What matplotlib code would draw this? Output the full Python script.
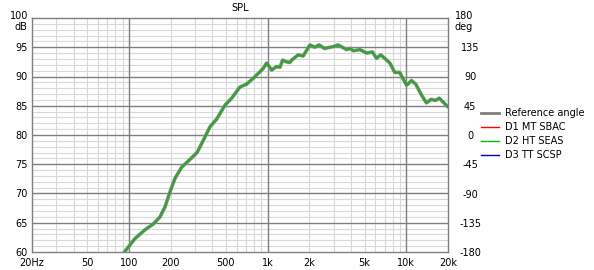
import numpy as np
import matplotlib
matplotlib.use("Agg")
import matplotlib.pyplot as plt
from matplotlib.lines import Line2D

# ---- data ----
freq = [90, 110.6, 130.6, 150, 167.5, 182, 198, 215, 240, 264, 310, 344, 384, 429,
        493, 551, 632, 706, 788, 881, 931, 985, 1070, 1160, 1228, 1284, 1370, 1450,
        1490, 1664, 1805, 2020, 2190, 2350, 2570, 2960, 3220, 3715, 3930, 4150, 4634,
        5177, 5700, 6110, 6530, 7000, 7620, 8260, 8960, 10060, 10900, 11700, 12900,
        13970, 15150, 16200, 17300, 20000]
spl = [59.6, 62.3, 63.8, 64.8, 66.0, 67.7, 70.3, 72.6, 74.5, 75.4, 77.0, 79.1, 81.4,
       82.7, 85.1, 86.3, 88.2, 88.7, 89.7, 90.8, 91.4, 92.3, 91.1, 91.7, 91.6, 92.8,
       92.5, 92.4, 92.8, 93.7, 93.5, 95.4, 95.0, 95.4, 94.8, 95.1, 95.4, 94.6, 94.8,
       94.4, 94.6, 94.0, 94.2, 93.1, 93.7, 93.1, 92.3, 90.7, 90.7, 88.5, 89.3, 88.7,
       86.8, 85.5, 86.1, 85.9, 86.3, 84.8]

xtick_vals = [20, 50, 100, 200, 500, 1000, 2000, 5000, 10000, 20000]
xtick_labels = ["20Hz", "50", "100", "200", "500", "1k", "2k", "5k", "10k", "20k"]
ytick_vals = [60, 65, 70, 75, 80, 85, 90, 95]
rtick_vals = [-180, -135, -90, -45, 0, 45, 90, 135]
legend_labels = ["Reference angle", "D1 MT SBAC", "D2 HT SEAS", "D3 TT SCSP"]
legend_colors = ["#808080", "#ff0000", "#00c000", "#0000c0"]

W, H = 594, 270
fig = plt.figure(figsize=(W / 100, H / 100), dpi=100)
L, R, T, B = 32, 448, 18, 252
ax = fig.add_axes([L / W, (H - B) / H, (R - L) / W, (B - T) / H])
ax.set_xscale("log")
ax.set_xlim(20, 20000)
ax.set_ylim(60, 100)

# grid
minor_f = [m * d for d in (10, 100, 1000, 10000) for m in range(2, 10) if 20 < m * d < 20000]
for f in minor_f:
    ax.axvline(f, color="#d8d8d8", lw=0.8, zorder=0)
for f in (100, 1000, 10000):
    ax.axvline(f, color="#7f7f7f", lw=1.0, zorder=1)
for v in range(61, 100):
    if v % 5:
        ax.axhline(v, color="#d8d8d8", lw=0.8, zorder=0)
for v in range(65, 100, 5):
    ax.axhline(v, color="#7f7f7f", lw=1.0, zorder=1)

for s in ax.spines.values():
    s.set_color("#7f7f7f")
    s.set_linewidth(1.0)

ax.plot(freq, spl, color="#909090", lw=2.6, zorder=3, solid_capstyle="round")
ax.plot(freq, spl, color="#35a235", lw=1.7, zorder=4, solid_capstyle="round")

ax.set_xticks(xtick_vals)
ax.set_xticklabels(xtick_labels)
ax.xaxis.set_minor_locator(matplotlib.ticker.NullLocator())
ax.set_yticks(ytick_vals)
ax.set_yticklabels([str(v) for v in ytick_vals])
ax.tick_params(axis="both", length=0, labelsize=7)
ax.tick_params(axis="x", pad=4)
ax.tick_params(axis="y", pad=3)
ax.text(-0.01, 1 + 2 / 234, "100", transform=ax.transAxes, ha="right", va="center", fontsize=7)
ax.text(-0.01, 1 - 9 / 234, "dB", transform=ax.transAxes, ha="right", va="center", fontsize=7)

ax2 = ax.twinx()
ax2.set_ylim(-180, 180)
ax2.set_yticks(rtick_vals)
ax2.set_yticklabels([str(v) for v in rtick_vals], ha="center")
ax2.tick_params(axis="y", length=0, labelsize=7, pad=16)
for s in ax2.spines.values():
    s.set_visible(False)
ax2.text(1.038, 1 + 2 / 234, "180", transform=ax.transAxes, ha="center", va="center", fontsize=7)
ax2.text(1.038, 1 - 9 / 234, "deg", transform=ax.transAxes, ha="center", va="center", fontsize=7)

fig.text(240 / W, 1 - 8 / H, "SPL", ha="center", va="center", fontsize=7)

handles = [Line2D([0], [0], color=c, lw=(2.0 if i == 0 else 1.0))
           for i, c in enumerate(legend_colors)]
fig.legend(handles, legend_labels, loc="upper left", bbox_to_anchor=(481 / W, 1 - 108 / H),
           frameon=False, fontsize=7, handlelength=1.9, handletextpad=0.6,
           labelspacing=0.42, borderaxespad=0, borderpad=0)

fig.savefig("out.png", dpi=100)
